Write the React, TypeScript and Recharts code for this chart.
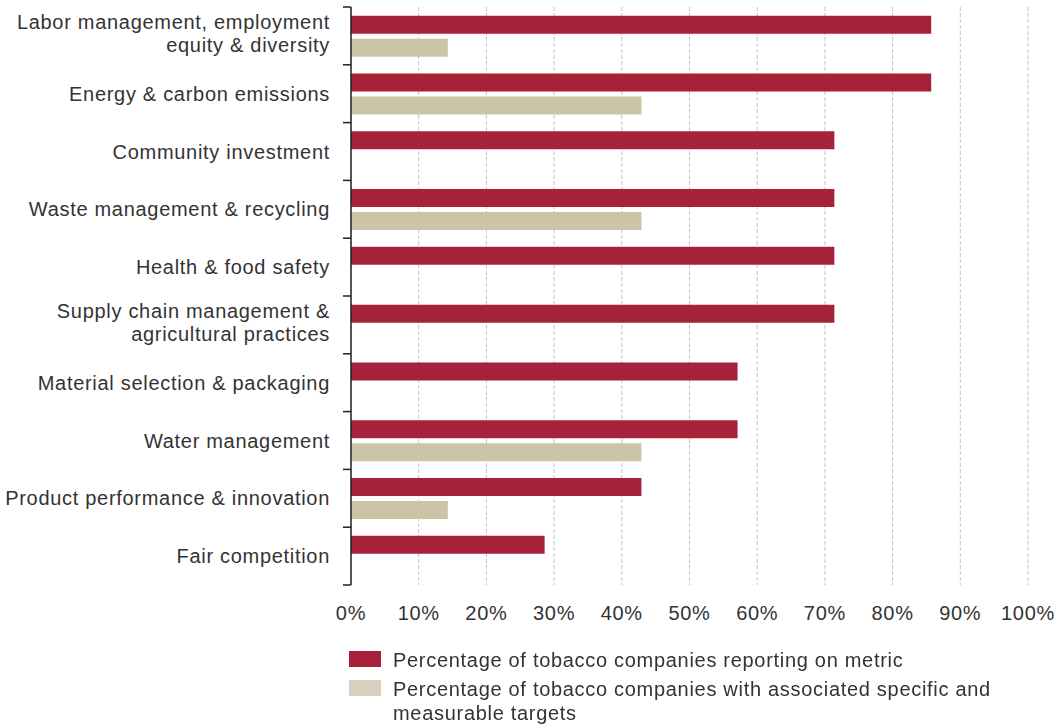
import React from "react";
import { BarChart, Bar, XAxis, YAxis, CartesianGrid } from "recharts";

const categories = [
  "Labor management, employment\nequity & diversity",
  "Energy & carbon emissions",
  "Community investment",
  "Waste management & recycling",
  "Health & food safety",
  "Supply chain management &\nagricultural practices",
  "Material selection & packaging",
  "Water management",
  "Product performance & innovation",
  "Fair competition",
];
const reporting = [85.7, 85.7, 71.4, 71.4, 71.4, 71.4, 57.1, 57.1, 42.9, 28.6];
const targets = [14.3, 42.9, null, 42.9, null, null, null, 42.9, 14.3, null];
const xTicks = [0, 10, 20, 30, 40, 50, 60, 70, 80, 90, 100];
const legendLabels = [
  "Percentage of tobacco companies reporting on metric",
  "Percentage of tobacco companies with associated specific and\nmeasurable targets",
];

const RED = "#A6223A";
const TAN = "#CCC4A7";
const LEGEND_TAN = "#D9D1BF";
const TEXT = "#333333";
const FONT = "'Liberation Sans', Arial, sans-serif";
const SPACING = 0.7;

const W = 1057;
const H = 724;
const PLOT_LEFT = 351;
const PLOT_TOP = 7;
const PLOT_BOTTOM = 585;
const HALF_BAND = (PLOT_BOTTOM - PLOT_TOP) / categories.length / 2;

const data = categories.map((name, i) => ({ name, reporting: reporting[i], targets: targets[i] }));

function CategoryTick(props: any) {
  const { y, payload, index } = props;
  const lines = String(payload.value).split("\n");
  const half = payload.offset || HALF_BAND;
  const lh = 23;
  const tx = PLOT_LEFT - 21;
  return (
    <g>
      <line x1={PLOT_LEFT - 8} x2={PLOT_LEFT} y1={y - half} y2={y - half} stroke="#222" strokeWidth={1.5} />
      {index === categories.length - 1 && (
        <line x1={PLOT_LEFT - 8} x2={PLOT_LEFT} y1={y + half} y2={y + half} stroke="#222" strokeWidth={1.5} />
      )}
      <text x={tx} y={y - ((lines.length - 1) * lh) / 2 - (lines.length > 1 ? 2 : 0)} textAnchor="end"
        fill={TEXT} style={{ fontSize: 20, fontFamily: FONT, letterSpacing: SPACING }}>
        {lines.map((l, k) => (
          <tspan key={k} x={tx} dy={k === 0 ? "0.35em" : lh}>{l}</tspan>
        ))}
      </text>
    </g>
  );
}

export default function App() {
  return (
    <div style={{ position: "fixed", left: 0, top: 0, width: W, height: H, fontFamily: FONT, background: "#fff" }}>
      <BarChart width={W} height={H} data={data} layout="vertical"
        margin={{ top: PLOT_TOP, right: W - 1028, left: 0, bottom: 0 }}
        barCategoryGap="15%" barGap={5}>
        <CartesianGrid horizontal={false} stroke="#c4c4c4" strokeDasharray="4 2" />
        <XAxis type="number" domain={[0, 100]} ticks={xTicks} tickFormatter={(v) => `${v}%`}
          axisLine={false} tickLine={false} tickMargin={15} height={H - PLOT_BOTTOM}
          tick={{ fontSize: 20, fill: TEXT, fontFamily: FONT, letterSpacing: SPACING }} interval={0} />
        <YAxis type="category" dataKey="name" width={PLOT_LEFT} tickLine={false}
          axisLine={{ stroke: "#222", strokeWidth: 1.5 }} tick={<CategoryTick />} interval={0} />
        <Bar dataKey="reporting" fill={RED} isAnimationActive={false} />
        <Bar dataKey="targets" fill={TAN} isAnimationActive={false} />
      </BarChart>
      <div style={{ position: "absolute", left: 349, top: 648, fontSize: 20, color: TEXT, lineHeight: "24px", letterSpacing: SPACING }}>
        {legendLabels.map((label, i) => (
          <div key={i} style={{ display: "flex", alignItems: "flex-start", marginBottom: 5 }}>
            <div style={{ width: 32, height: 16, marginTop: 3, background: i === 0 ? RED : LEGEND_TAN, flexShrink: 0 }} />
            <div style={{ marginLeft: 12, whiteSpace: "pre-line" }}>{label}</div>
          </div>
        ))}
      </div>
    </div>
  );
}
